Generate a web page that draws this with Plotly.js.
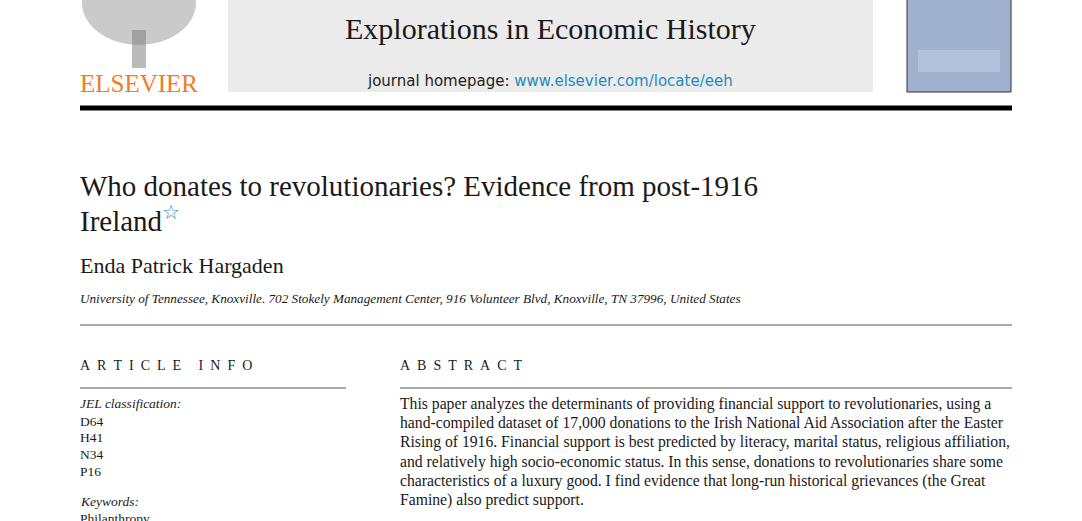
<!DOCTYPE html>
<html>
<head>
<meta charset="utf-8">
<script src="https://cdn.plot.ly/plotly-3.0.1.min.js"></script>
<style>html,body{margin:0;padding:0;background:#fff;}</style>
</head>
<body>
<div id="page" style="width:1082px;height:521px;"></div>
<script>
// page text, kept as small arrays
const journalName = "Explorations in Economic History";
const homepage = "www.elsevier.com/locate/eeh";
const titleLines = ["Who donates to revolutionaries? Evidence from post-1916", "Ireland"];
const author = "Enda Patrick Hargaden";
const affiliation = "University of Tennessee, Knoxville. 702 Stokely Management Center, 916 Volunteer Blvd, Knoxville, TN 37996, United States";
const jelCodes = ["D64", "H41", "N34", "P16"];
const keywords = ["Philanthropy"];
const abstractLines = [
  "This paper analyzes the determinants of providing financial support to revolutionaries, using a",
  "hand-compiled dataset of 17,000 donations to the Irish National Aid Association after the Easter",
  "Rising of 1916. Financial support is best predicted by literacy, marital status, religious affiliation,",
  "and relatively high socio-economic status. In this sense, donations to revolutionaries share some",
  "characteristics of a luxury good. I find evidence that long-run historical grievances (the Great",
  "Famine) also predict support."
];

const serif = "Liberation Serif, serif";
const sans = "DejaVu Sans, sans-serif";
const ann = [];
function txt(x, y, text, size, opts = {}) {
  ann.push(Object.assign({
    x: x - 2, y, xref: "x", yref: "y", text, showarrow: false,
    xanchor: "left", yanchor: "middle",
    font: { family: serif, size, color: "#1a1a1a" }
  }, opts));
}
function spaced(s) {
  return s.split(" ").map(w => w.split("").join("&nbsp;&nbsp;")).join("&nbsp;&nbsp;&nbsp;&nbsp;&nbsp;");
}

txt(80, 83, "ELSEVIER", 25, { font: { family: serif, size: 25, color: "#f47b20" } });
txt(552, 28, journalName, 30, { xanchor: "center" });
txt(552, 81, "journal homepage: <span style='color:#1f8dbf'>" + homepage + "</span>", 15,
    { xanchor: "center", font: { family: sans, size: 15, color: "#222" } });
txt(80, 186, titleLines[0], 29);
txt(80, 219, titleLines[1] + "<sup><span style='color:#1f8dbf'>☆</span></sup>", 29);
txt(80, 265, author, 22);
txt(80, 298, "<i>" + affiliation + "</i>", 13.2);
txt(80, 365, spaced("ARTICLE INFO"), 14);
txt(400, 365, spaced("ABSTRACT"), 14);
txt(80, 403, "<i>JEL classification:</i>", 13.5);
jelCodes.forEach((c, i) => txt(80, 421 + i * 16.7, c, 13.5));
txt(80, 501, "<i>Keywords:</i>", 13.5);
keywords.forEach((k, i) => txt(80, 518 + i * 16.7, k, 13.5));
abstractLines.forEach((l, i) => txt(400, 404 + i * 19.2, l, 15.7));

const shapes = [
  { type: "rect", x0: 228, x1: 873, y0: -2, y1: 92, fillcolor: "#ebebeb", line: { width: 0 } },
  { type: "rect", x0: 907, x1: 1011, y0: -2, y1: 92, fillcolor: "#9fb1cf", line: { color: "#333", width: 1 } },
  { type: "rect", x0: 918, x1: 1000, y0: 50, y1: 72, fillcolor: "#b3c2dc", line: { width: 0 } },
  // tree placeholder
  { type: "circle", x0: 82, x1: 196, y0: -40, y1: 45, fillcolor: "#8a8a8a", opacity: 0.45, line: { width: 0 } },
  { type: "rect", x0: 132, x1: 146, y0: 30, y1: 68, fillcolor: "#777", opacity: 0.5, line: { width: 0 } },
  { type: "line", x0: 80, x1: 1012, y0: 108, y1: 108, line: { color: "#000", width: 5 } },
  { type: "line", x0: 80, x1: 1012, y0: 325, y1: 325, line: { color: "#555", width: 1 } },
  { type: "line", x0: 80, x1: 346, y0: 388, y1: 388, line: { color: "#555", width: 1 } },
  { type: "line", x0: 400, x1: 1012, y0: 388, y1: 388, line: { color: "#555", width: 1 } }
];

Plotly.newPlot("page", [], {
  width: 1082, height: 521,
  margin: { t: 0, b: 0, l: 0, r: 0 },
  paper_bgcolor: "#fff", plot_bgcolor: "#fff",
  xaxis: { range: [0, 1082], visible: false, fixedrange: true },
  yaxis: { range: [521, 0], visible: false, fixedrange: true },
  annotations: ann, shapes, showlegend: false
}, { displayModeBar: false, staticPlot: true });
</script>
</body>
</html>
